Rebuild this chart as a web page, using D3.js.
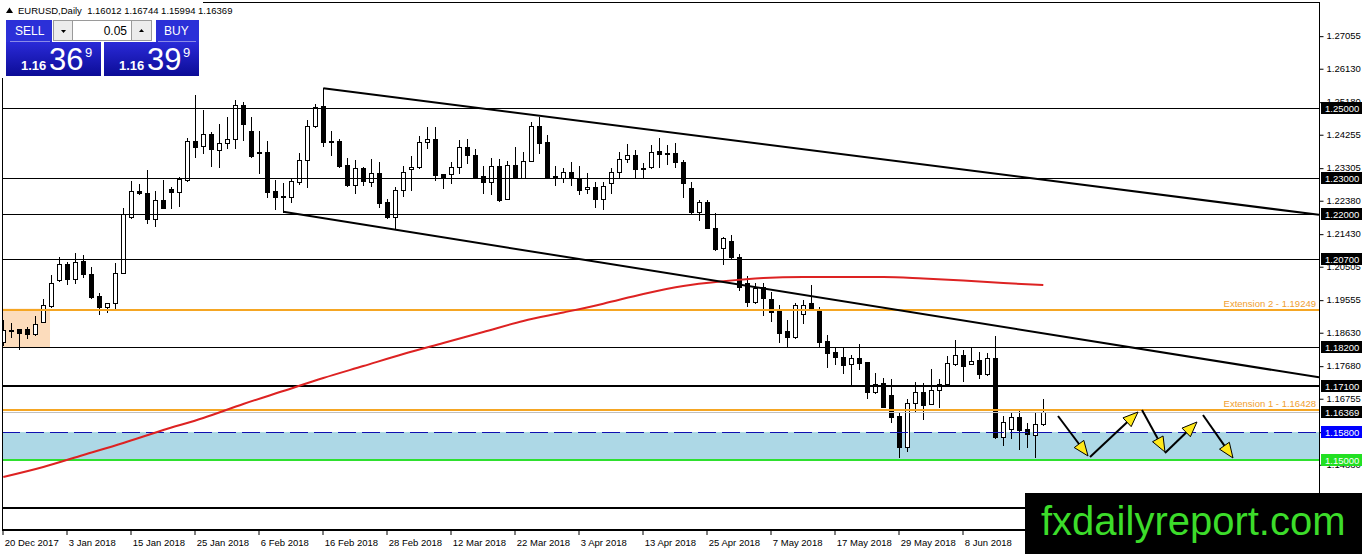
<!DOCTYPE html>
<html>
<head>
<meta charset="utf-8">
<script src="https://cdn.jsdelivr.net/npm/d3@7"></script>
<style>
  body { margin: 0; background: #fff; }
  svg text { font-family: "Liberation Sans", Arial, sans-serif; }
</style>
</head>
<body>
<div id="chart"></div>
<script>
var svgWidth = 1362;
var svgHeight = 554;

// EURUSD daily candles, 20 Dec 2017 .. 22 Jun 2018
var opens = [
  1.18361, 1.18693, 1.18722, 1.18713, 1.18580, 1.18912, 1.19375, 1.20114, 1.20560, 1.20142,
  1.20653, 1.20276, 1.19659, 1.19338, 1.19452, 1.20304, 1.21912, 1.22640, 1.22577, 1.21840,
  1.22386, 1.22699, 1.22605, 1.22955, 1.24062, 1.23929, 1.24261, 1.23807, 1.23997, 1.24111,
  1.25085, 1.24347, 1.23759, 1.23759, 1.22642, 1.22490, 1.22463, 1.22889, 1.23523, 1.24489,
  1.25057, 1.24054, 1.24062, 1.23381, 1.22813, 1.23287, 1.22906, 1.23162, 1.22338, 1.21912,
  1.22670, 1.23259, 1.23332, 1.24026, 1.24111, 1.23125, 1.23125, 1.23315, 1.23883, 1.23665,
  1.23068, 1.22889, 1.23352, 1.22406, 1.23381, 1.23000, 1.23503, 1.24489, 1.24043, 1.23060,
  1.23000, 1.23190, 1.22983, 1.22690, 1.22764, 1.22406, 1.22861, 1.23190, 1.23543, 1.23665,
  1.23287, 1.23315, 1.23787, 1.23713, 1.23713, 1.23457, 1.22719, 1.22054, 1.22321, 1.21582,
  1.21014, 1.21222, 1.20759, 1.20020, 1.19497, 1.19906, 1.19565, 1.19241, 1.18665, 1.18503,
  1.19148, 1.19452, 1.19241, 1.18389, 1.18077, 1.17918, 1.17719, 1.17889, 1.17775, 1.16940,
  1.17179, 1.16847, 1.16258, 1.15360, 1.16611, 1.16940, 1.16591, 1.16989, 1.17150, 1.17719,
  1.17983, 1.17727, 1.17841, 1.17435, 1.17889, 1.15663, 1.15872, 1.16213, 1.15880, 1.15710,
  1.16012
];
var highs = [
  1.18977, 1.18883, 1.18722, 1.18787, 1.19091, 1.19565, 1.20256, 1.20776, 1.20634, 1.20872,
  1.20824, 1.20491, 1.19736, 1.19469, 1.20588, 1.22151, 1.22935, 1.22841, 1.23239, 1.22642,
  1.22955, 1.22747, 1.23048, 1.24139, 1.25369, 1.24943, 1.24327, 1.24545, 1.24736, 1.25227,
  1.25179, 1.24753, 1.24347, 1.24062, 1.22955, 1.22861, 1.22974, 1.23730, 1.24659, 1.25114,
  1.25560, 1.24347, 1.24111, 1.23580, 1.23523, 1.23332, 1.23543, 1.23474, 1.22406, 1.22747,
  1.23352, 1.23636, 1.24205, 1.24469, 1.24469, 1.23125, 1.23474, 1.24091, 1.24111, 1.23827,
  1.23352, 1.23571, 1.23543, 1.23503, 1.23883, 1.23759, 1.24611, 1.24753, 1.24233, 1.23352,
  1.23287, 1.23457, 1.23352, 1.23145, 1.22906, 1.22906, 1.23287, 1.23759, 1.23977, 1.23807,
  1.23446, 1.23949, 1.24139, 1.23949, 1.23997, 1.23523, 1.22906, 1.22386, 1.22386, 1.22009,
  1.21344, 1.21392, 1.20852, 1.20227, 1.20020, 1.20020, 1.19781, 1.19403, 1.18977, 1.19469,
  1.19545, 1.19972, 1.19355, 1.18551, 1.18219, 1.18219, 1.17983, 1.18295, 1.17775, 1.17480,
  1.17321, 1.17293, 1.16372, 1.16733, 1.17224, 1.17196, 1.17577, 1.17293, 1.17955, 1.18409,
  1.18125, 1.18173, 1.18077, 1.18031, 1.18523, 1.16250, 1.16327, 1.16420, 1.16043, 1.16327,
  1.16744
];
var lows = [
  1.18267, 1.18503, 1.18145, 1.18457, 1.18551, 1.18912, 1.19338, 1.20094, 1.19991, 1.20020,
  1.20207, 1.19594, 1.19148, 1.19213, 1.19310, 1.20304, 1.21866, 1.22570, 1.21741, 1.21648,
  1.22150, 1.22150, 1.22224, 1.22926, 1.23616, 1.23713, 1.23361, 1.23332, 1.23855, 1.23855,
  1.24091, 1.23616, 1.23145, 1.22463, 1.22122, 1.22054, 1.22338, 1.22832, 1.22747, 1.24470,
  1.23929, 1.23665, 1.23332, 1.22784, 1.22577, 1.22813, 1.22784, 1.22196, 1.21866, 1.21554,
  1.22509, 1.22670, 1.23287, 1.23855, 1.22955, 1.22719, 1.22878, 1.23145, 1.23429, 1.23000,
  1.22594, 1.22557, 1.22367, 1.22406, 1.23000, 1.23000, 1.23503, 1.23713, 1.23048, 1.22813,
  1.22906, 1.22813, 1.22548, 1.22577, 1.22179, 1.22130, 1.22594, 1.23000, 1.23457, 1.23000,
  1.23048, 1.23287, 1.23332, 1.23400, 1.23332, 1.22480, 1.21989, 1.21818, 1.21582, 1.20966,
  1.20568, 1.20710, 1.19830, 1.19366, 1.19469, 1.19119, 1.18957, 1.18361, 1.18219, 1.18457,
  1.18901, 1.19310, 1.18239, 1.17634, 1.17727, 1.17480, 1.17102, 1.17577, 1.16753, 1.16895,
  1.16497, 1.16088, 1.15094, 1.15250, 1.16400, 1.16156, 1.16591, 1.16514, 1.17131, 1.17699,
  1.17253, 1.17727, 1.17321, 1.17415, 1.15616, 1.15426, 1.15616, 1.15312, 1.15361, 1.15077,
  1.15994
];
var closes = [
  1.18693, 1.18700, 1.18599, 1.18571, 1.18864, 1.19395, 1.20020, 1.20560, 1.20134, 1.20634,
  1.20276, 1.19639, 1.19338, 1.19469, 1.20304, 1.21989, 1.22642, 1.22577, 1.21838, 1.22386,
  1.22168, 1.22605, 1.22983, 1.24062, 1.23900, 1.24261, 1.23827, 1.24014, 1.24111, 1.25085,
  1.24537, 1.23636, 1.23722, 1.22622, 1.22463, 1.22463, 1.22926, 1.23523, 1.24489, 1.25037,
  1.24043, 1.24026, 1.23361, 1.22813, 1.23287, 1.22935, 1.23145, 1.22310, 1.21912, 1.22670,
  1.23190, 1.23332, 1.24026, 1.24111, 1.23097, 1.23048, 1.23315, 1.23883, 1.23665, 1.23000,
  1.22889, 1.23352, 1.22386, 1.23381, 1.23000, 1.23503, 1.24489, 1.24014, 1.23048, 1.23011,
  1.23190, 1.23020, 1.22670, 1.22764, 1.22406, 1.22793, 1.23190, 1.23543, 1.23665, 1.23259,
  1.23259, 1.23759, 1.23685, 1.23685, 1.23457, 1.22861, 1.22054, 1.22321, 1.21582, 1.20994,
  1.21298, 1.20759, 1.19923, 1.19497, 1.19878, 1.19594, 1.19213, 1.18616, 1.18503, 1.19403,
  1.19403, 1.19310, 1.18361, 1.18048, 1.17935, 1.17699, 1.17889, 1.17764, 1.16940, 1.17159,
  1.16497, 1.16230, 1.15378, 1.16619, 1.16932, 1.16563, 1.16989, 1.17150, 1.17764, 1.17983,
  1.17679, 1.17821, 1.17435, 1.17889, 1.15645, 1.16071, 1.16213, 1.15852, 1.15730, 1.16014,
  1.16369
];

// one date label every 8 bars
var dateLabels = ["20 Dec 2017", "3 Jan 2018", "15 Jan 2018", "25 Jan 2018", "6 Feb 2018",
  "16 Feb 2018", "28 Feb 2018", "12 Mar 2018", "22 Mar 2018", "3 Apr 2018", "13 Apr 2018",
  "25 Apr 2018", "7 May 2018", "17 May 2018", "29 May 2018", "8 Jun 2018"];
var priceTicks = [1.27055, 1.26130, 1.25180, 1.24255, 1.23305, 1.22380, 1.21430, 1.20505,
  1.19555, 1.18630, 1.17680, 1.16755, 1.15805, 1.14880, 1.13930];

// horizontal levels
var levels = [1.25, 1.23, 1.22, 1.207, 1.182, 1.171, 1.1364];
var labelledLevels = [1.25, 1.23, 1.22, 1.207, 1.182, 1.171];
var extensionNames = ["Extension 2", "Extension 1"];
var extensionValues = [1.19249, 1.16428];
var zoneTop = 1.158;
var zoneBottom = 1.15;
var bidPrice = 1.16369;
var header = ["1.16012", "1.16744", "1.15994", "1.16369"];

// moving average read every 5 bars
var maBars = [0, 5, 10, 15, 20, 25, 30, 35, 40, 45, 50, 55, 60, 65, 70, 75, 80, 85, 90, 95,
  100, 105, 110, 115, 120, 125, 130];
var maValues = [1.14517, 1.14801, 1.15142, 1.15483, 1.15852, 1.16193, 1.16591, 1.16960,
  1.17330, 1.17670, 1.18011, 1.18324, 1.18636, 1.18949, 1.19190, 1.19440, 1.19716, 1.19943,
  1.20077, 1.20170, 1.20199, 1.20200, 1.20199, 1.20156, 1.20100, 1.20028, 1.19972];

// trendlines (bar, price) pairs, extended to the right edge
var upperTrend = [[40, 1.25560], [130, 1.22960]];
var lowerTrend = [[35, 1.22054], [130, 1.18600]];

// shaded box at the left
var boxBars = [-1, 5.84];
var boxPrices = [1.1930, 1.1821];

// projected path arrows
var arrowFrom = [[131.84, 1.16250], [135.84, 1.15085], [142.34, 1.16420], [145.21, 1.15199], [149.96, 1.16278]];
var arrowTo = [[135.59, 1.15114], [141.84, 1.16364], [145.21, 1.15227], [149.21, 1.16080], [153.71, 1.15057]];

var plotLeft = 2, plotRight = 1319, plotTop = 2, plotBottom = 530;

var svg = d3.select("#chart")
  .append("svg")
  .attr("width", svgWidth)
  .attr("height", svgHeight)
  .style("display", "block");

svg.append("rect").attr("width", svgWidth).attr("height", svgHeight).attr("fill", "#fff");

var x = d3.scaleLinear().domain([0, 130]).range([3.3, 1043.3]);
var y = d3.scaleLinear().domain([1.15, 1.25]).range([460, 108]);
var px = i => Math.round(x(i)) + 0.5;
var py = v => Math.round(y(v)) + 0.5;

svg.append("clipPath").attr("id", "plotClip")
  .append("rect")
  .attr("x", plotLeft).attr("y", plotTop)
  .attr("width", plotRight - plotLeft).attr("height", plotBottom - plotTop);

var plot = svg.append("g").attr("clip-path", "url(#plotClip)");

// background zones
plot.append("rect")
  .attr("x", plotLeft).attr("width", plotRight - plotLeft)
  .attr("y", Math.round(y(zoneTop))).attr("height", Math.round(y(zoneBottom)) - Math.round(y(zoneTop)))
  .attr("fill", "#add8e6");

plot.append("rect")
  .attr("x", x(boxBars[0])).attr("width", x(boxBars[1]) - x(boxBars[0]))
  .attr("y", y(boxPrices[0])).attr("height", y(boxPrices[1]) - y(boxPrices[0]))
  .attr("fill", "#fcdcbc");

// candles
var bars = d3.range(opens.length);
var candles = plot.selectAll("g.candle")
  .data(bars)
  .enter()
  .append("g")
  .attr("class", "candle");

candles.append("line")
  .attr("x1", i => px(i)).attr("x2", i => px(i))
  .attr("y1", i => Math.round(y(highs[i])))
  .attr("y2", i => Math.round(y(lows[i])) + 1)
  .attr("stroke", "#000");

candles.append("rect")
  .attr("x", i => px(i) - 2)
  .attr("width", 4)
  .attr("y", i => py(Math.max(opens[i], closes[i])))
  .attr("height", i => Math.max(1, py(Math.min(opens[i], closes[i])) - py(Math.max(opens[i], closes[i]))))
  .attr("fill", i => closes[i] >= opens[i] ? "#fff" : "#000")
  .attr("stroke", "#000");

// horizontal levels
plot.selectAll("line.level")
  .data(levels)
  .enter()
  .append("line")
  .attr("class", "level")
  .attr("x1", plotLeft).attr("x2", plotRight)
  .attr("y1", d => d === 1.171 || d === 1.1364 ? Math.round(y(d)) : py(d))
  .attr("y2", d => d === 1.171 || d === 1.1364 ? Math.round(y(d)) : py(d))
  .attr("stroke", "#000")
  .attr("stroke-width", d => d === 1.171 || d === 1.1364 ? 2 : 1);

plot.append("line")
  .attr("x1", plotLeft).attr("x2", plotRight)
  .attr("y1", py(bidPrice)).attr("y2", py(bidPrice))
  .attr("stroke", "#c0c0c0");

plot.selectAll("line.ext")
  .data(extensionValues)
  .enter()
  .append("line")
  .attr("x1", plotLeft).attr("x2", plotRight)
  .attr("y1", d => Math.round(y(d))).attr("y2", d => Math.round(y(d)))
  .attr("stroke", "#f5a623")
  .attr("stroke-width", 2);

plot.append("line")
  .attr("x1", plotLeft).attr("x2", plotRight)
  .attr("y1", py(zoneTop)).attr("y2", py(zoneTop))
  .attr("stroke", "#1010b0")
  .attr("stroke-dasharray", "18,6");

plot.append("line")
  .attr("x1", plotLeft).attr("x2", plotRight)
  .attr("y1", Math.round(y(zoneBottom))).attr("y2", Math.round(y(zoneBottom)))
  .attr("stroke", "#2ee02e")
  .attr("stroke-width", 2);

// moving average
var maLine = d3.line()
  .x((d, i) => x(maBars[i]))
  .y(d => y(d))
  .curve(d3.curveMonotoneX);

plot.append("path")
  .datum(maValues)
  .attr("d", maLine)
  .attr("fill", "none")
  .attr("stroke", "#dd2222")
  .attr("stroke-width", 2);

// trendlines as rays
function ray(pts) {
  var x0 = x(pts[0][0]), y0 = y(pts[0][1]);
  var x1 = x(pts[1][0]), y1 = y(pts[1][1]);
  var slope = (y1 - y0) / (x1 - x0);
  return [x0, y0, plotRight, y0 + slope * (plotRight - x0)];
}
[upperTrend, lowerTrend].forEach(function(t) {
  var r = ray(t);
  plot.append("line")
    .attr("x1", r[0]).attr("y1", r[1])
    .attr("x2", r[2]).attr("y2", r[3])
    .attr("stroke", "#000")
    .attr("stroke-width", 2);
});

// arrows with yellow heads
arrowFrom.forEach(function(a, k) {
  var b = arrowTo[k];
  var x0 = x(a[0]), y0 = y(a[1]), x1 = x(b[0]), y1 = y(b[1]);
  var len = Math.hypot(x1 - x0, y1 - y0);
  var ux = (x1 - x0) / len, uy = (y1 - y0) / len;
  var hl = 15, hw = 6;
  var bx = x1 - ux * hl, by = y1 - uy * hl;
  plot.append("line")
    .attr("x1", x0).attr("y1", y0).attr("x2", bx).attr("y2", by)
    .attr("stroke", "#000").attr("stroke-width", 2);
  plot.append("path")
    .attr("d", "M" + x1 + "," + y1 +
      "L" + (bx - uy * hw) + "," + (by + ux * hw) +
      "L" + (bx + uy * hw) + "," + (by - ux * hw) + "Z")
    .attr("fill", "#ffe81a")
    .attr("stroke", "#000")
    .attr("stroke-width", 1);
});

// extension captions
plot.selectAll("text.ext")
  .data(extensionValues)
  .enter()
  .append("text")
  .attr("x", plotRight - 3)
  .attr("y", d => y(d) - 3)
  .attr("text-anchor", "end")
  .attr("font-size", "9.5px")
  .attr("fill", "#f0a030")
  .text((d, i) => extensionNames[i] + " - " + d3.format(".5f")(d));

// frame
svg.append("line").attr("x1", plotLeft + 0.5).attr("x2", plotLeft + 0.5).attr("y1", plotTop).attr("y2", plotBottom).attr("stroke", "#000");
svg.append("line").attr("x1", plotLeft).attr("x2", plotRight).attr("y1", plotTop + 0.5).attr("y2", plotTop + 0.5).attr("stroke", "#000");
svg.append("line").attr("x1", plotLeft).attr("x2", plotRight).attr("y1", plotBottom).attr("y2", plotBottom).attr("stroke", "#000").attr("stroke-width", 2);
svg.append("line").attr("x1", plotRight + 0.5).attr("x2", plotRight + 0.5).attr("y1", plotTop).attr("y2", svgHeight).attr("stroke", "#000");

// price axis
var rightAxis = d3.axisRight(y)
  .tickValues(priceTicks)
  .tickSize(4)
  .tickFormat(d3.format(".5f"));

var yAxisG = svg.append("g")
  .attr("transform", `translate(${plotRight + 0.5}, 0)`)
  .call(rightAxis);
yAxisG.select(".domain").remove();
yAxisG.selectAll("line").attr("transform", "translate(0,0.5)");
yAxisG.selectAll("text")
  .attr("x", 7)
  .attr("font-family", "Liberation Sans, Arial, sans-serif")
  .attr("font-size", "9.5px")
  .attr("fill", "#000");

// price labels on the axis
var axisLabels = labelledLevels.map(v => ({ v: v, bg: "#000" }))
  .concat([{ v: bidPrice, bg: "#000" }, { v: zoneTop, bg: "#0000ff" }, { v: zoneBottom, bg: "#22e022" }]);

var tags = svg.selectAll("g.tag")
  .data(axisLabels)
  .enter()
  .append("g")
  .attr("transform", d => `translate(${plotRight + 2}, ${Math.round(y(d.v))})`);
tags.append("rect")
  .attr("x", 0).attr("y", -6).attr("width", 42).attr("height", 12)
  .attr("fill", d => d.bg);
tags.append("text")
  .attr("x", 4).attr("y", 4)
  .attr("font-size", "9.5px")
  .attr("fill", "#fff")
  .text(d => d3.format(".5f")(d.v));

// date axis
var dateBars = dateLabels.map((d, i) => i * 8);
var bottomAxis = d3.axisBottom(x)
  .tickValues(dateBars)
  .tickSize(4)
  .tickFormat((d, i) => dateLabels[i]);

var xAxisG = svg.append("g")
  .attr("transform", `translate(0, ${plotBottom + 1})`)
  .call(bottomAxis);
xAxisG.select(".domain").remove();
xAxisG.selectAll("line").attr("transform", "translate(-0.8,0)");
xAxisG.selectAll("text")
  .attr("text-anchor", "start")
  .attr("x", 1)
  .attr("y", 8)
  .attr("font-family", "Liberation Sans, Arial, sans-serif")
  .attr("font-size", "9.5px")
  .attr("fill", "#000");

// header and one-click trading panel
svg.append("rect").attr("x", 0).attr("y", 0).attr("width", 203).attr("height", 78).attr("fill", "#fff");
svg.append("path").attr("d", "M6,13 L9.5,7.5 L13,13 Z").attr("fill", "#000");
svg.append("text")
  .attr("x", 18).attr("y", 14)
  .attr("font-size", "9.5px")
  .attr("fill", "#000")
  .attr("xml:space", "preserve")
  .text("EURUSD,Daily  " + header.join(" "));

var defs = svg.append("defs");
var grad = defs.append("linearGradient").attr("id", "blockGrad").attr("x1", 0).attr("y1", 0).attr("x2", 0).attr("y2", 1);
grad.append("stop").attr("offset", "0%").attr("stop-color", "#2a2ad8");
grad.append("stop").attr("offset", "100%").attr("stop-color", "#0c0c96");

var panel = svg.append("g");
panel.append("rect").attr("x", 6).attr("y", 20).attr("width", 46).attr("height", 22).attr("fill", "#2b30d8");
panel.append("rect").attr("x", 156).attr("y", 20).attr("width", 43).attr("height", 22).attr("fill", "#2b30d8");
panel.append("rect").attr("x", 6).attr("y", 42).attr("width", 95).attr("height", 34).attr("fill", "url(#blockGrad)");
panel.append("rect").attr("x", 104).attr("y", 42).attr("width", 95).attr("height", 34).attr("fill", "url(#blockGrad)");
panel.append("line").attr("x1", 10).attr("x2", 50).attr("y1", 41.5).attr("y2", 41.5).attr("stroke", "#8a8ae8");
panel.append("line").attr("x1", 158).attr("x2", 196).attr("y1", 41.5).attr("y2", 41.5).attr("stroke", "#8a8ae8");

panel.append("rect").attr("x", 53.5).attr("y", 20.5).attr("width", 98).attr("height", 20).attr("fill", "#fff").attr("stroke", "#9a9a9a");
panel.append("rect").attr("x", 53.5).attr("y", 20.5).attr("width", 19).attr("height", 20).attr("fill", "#ececec").attr("stroke", "#9a9a9a");
panel.append("rect").attr("x", 131.5).attr("y", 20.5).attr("width", 20).attr("height", 20).attr("fill", "#ececec").attr("stroke", "#9a9a9a");
panel.append("path").attr("d", "M61,30 L66,30 L63.5,33 Z").attr("fill", "#000");
panel.append("path").attr("d", "M139,32 L144,32 L141.5,29 Z").attr("fill", "#000");
panel.append("text").attr("x", 127).attr("y", 35).attr("text-anchor", "end").attr("font-size", "12px").attr("fill", "#000").text("0.05");

panel.append("text").attr("x", 15).attr("y", 35).attr("font-size", "12px").attr("fill", "#fff").text("SELL");
panel.append("text").attr("x", 164).attr("y", 35).attr("font-size", "12px").attr("fill", "#fff").text("BUY");

[[21, "1.16", "36", "9"], [119, "1.16", "39", "9"]].forEach(function(p) {
  panel.append("text").attr("x", p[0]).attr("y", 70).attr("font-size", "13px").attr("font-weight", "bold").attr("fill", "#fff").text(p[1]);
  panel.append("text").attr("x", p[0] + 28).attr("y", 70).attr("font-size", "31px").attr("fill", "#fff").text(p[2]);
  panel.append("text").attr("x", p[0] + 64).attr("y", 57).attr("font-size", "13px").attr("fill", "#fff").text(p[3]);
});

// site banner
svg.append("rect").attr("x", 1025).attr("y", 493).attr("width", 337).attr("height", 61).attr("fill", "#000");
svg.append("text")
  .attr("x", 1041).attr("y", 535)
  .attr("font-size", "40px")
  .attr("fill", "#3cdc2a")
  .text("fxdailyreport.com");
</script>
</body>
</html>
